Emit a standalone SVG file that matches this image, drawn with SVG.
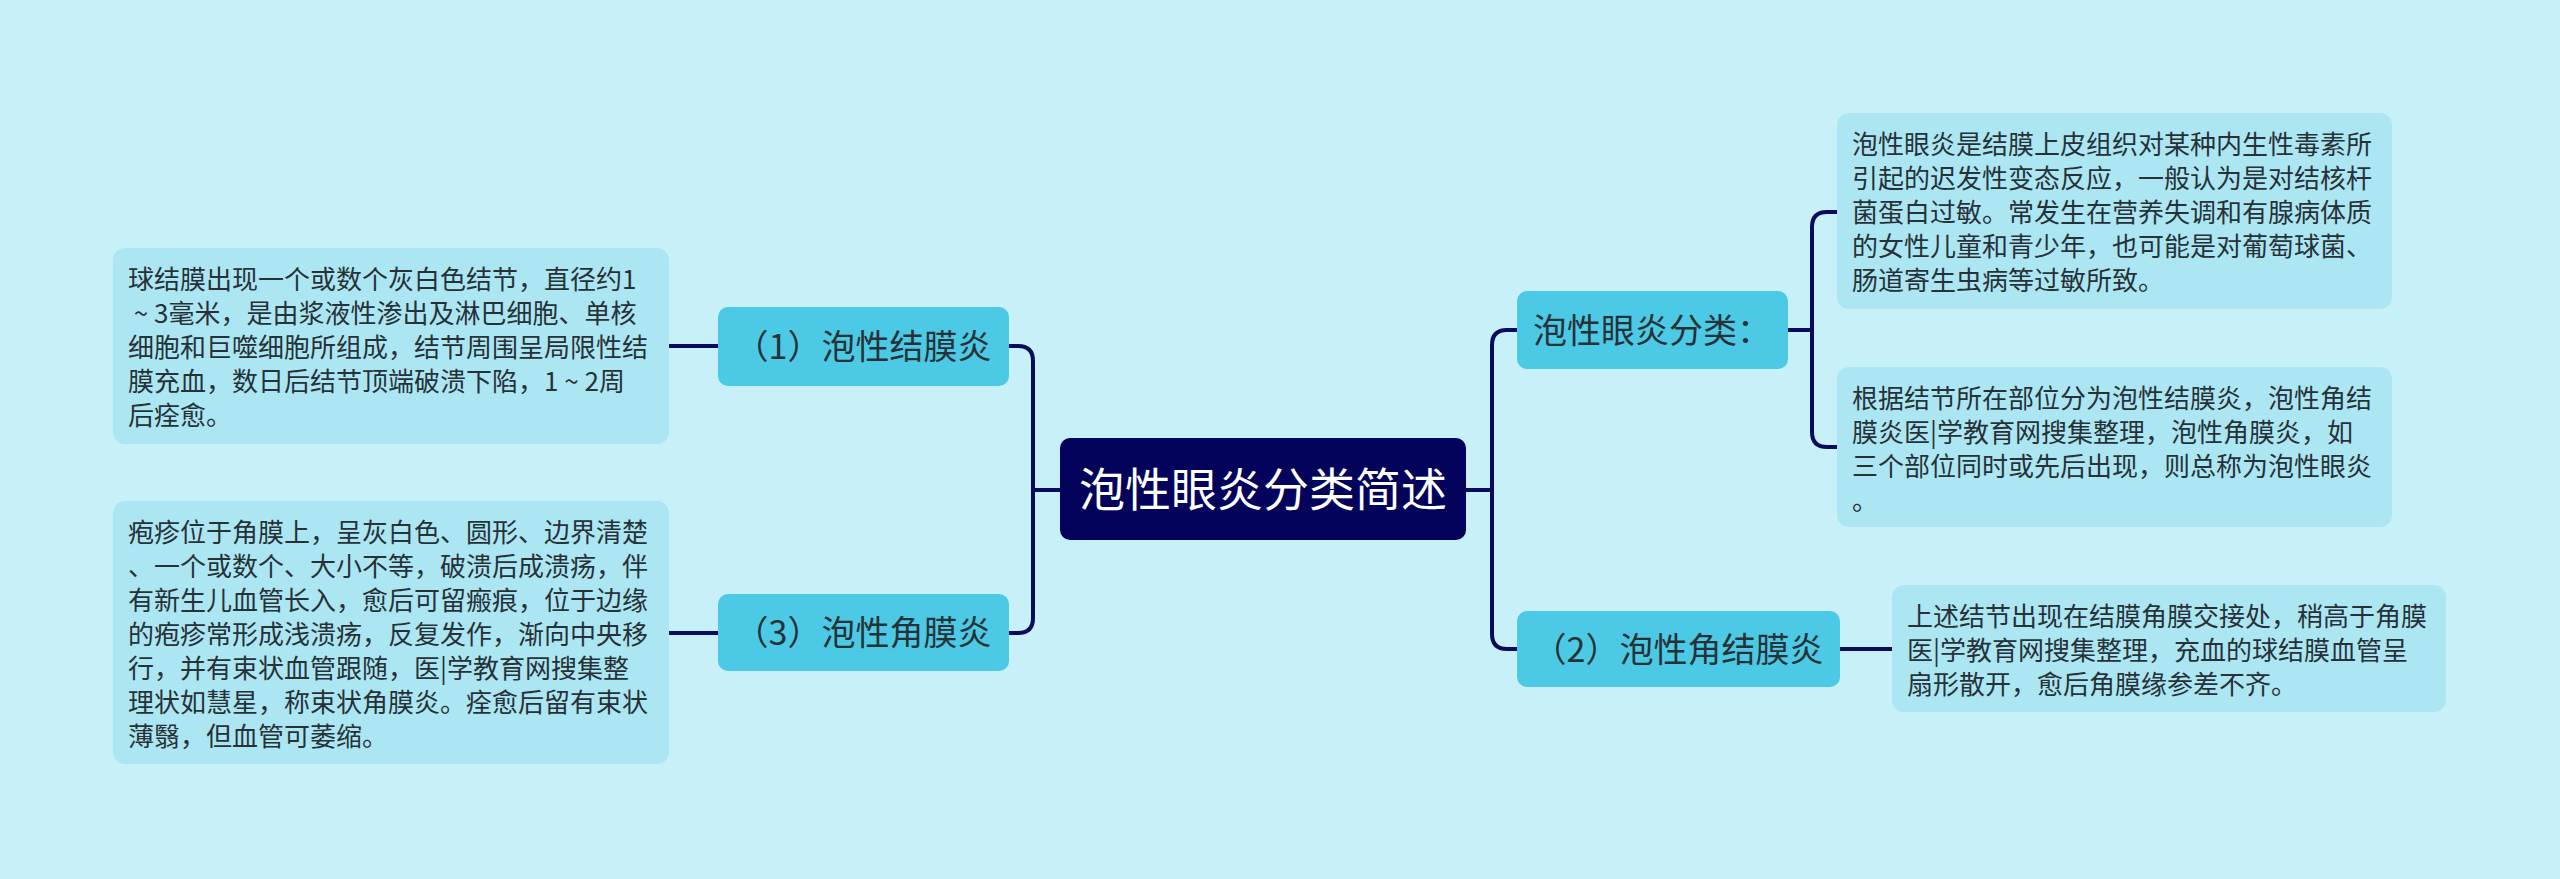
<svg xmlns="http://www.w3.org/2000/svg" width="2560" height="879" viewBox="0 0 2560 879">
<style>
.leaf{fill:#ade6f3}
.sub{fill:#4cc9e4}
.root{fill:#03035b}
.lt{font-family:"Noto Sans CJK SC","Noto Sans",sans-serif;font-size:26px;fill:#263238;white-space:pre}
.st{font-family:"Noto Sans CJK SC","Noto Sans",sans-serif;font-size:34px;fill:#263238;text-anchor:middle}
.rt{font-family:"Noto Sans CJK SC","Noto Sans",sans-serif;font-size:46px;fill:#ffffff;text-anchor:middle}
.c{fill:none;stroke:#0b0b5c;stroke-width:4}
</style>
<rect width="2560" height="879" fill="#c8f0f8"/>
<g id="connectors">
<path class="c" d="M1060 490 H1033"/>
<path class="c" d="M1009 346 H1018 Q1033 346 1033 361 V618 Q1033 633 1018 633 H1009"/>
<path class="c" d="M669 346 H718"/>
<path class="c" d="M669 633 H718"/>
<path class="c" d="M1466 490 H1492"/>
<path class="c" d="M1517 330 H1507 Q1492 330 1492 345 V634 Q1492 649 1507 649 H1517"/>
<path class="c" d="M1788 330 H1812"/>
<path class="c" d="M1837 212 H1827 Q1812 212 1812 227 V432 Q1812 447 1827 447 H1837"/>
<path class="c" d="M1840 649 H1892"/>
</g>
<g id="root">
<rect class="root" x="1060" y="438" width="406" height="102" rx="10"/>
<text class="rt" x="1263" y="506">泡性眼炎分类简述</text>
</g>
<g id="n1">
<rect class="sub" x="718" y="307" width="291" height="79" rx="10"/>
<text class="st" x="863" y="359">（1）泡性结膜炎</text>
</g>
<g id="n3">
<rect class="sub" x="718" y="594" width="291" height="77" rx="10"/>
<text class="st" x="863" y="645">（3）泡性角膜炎</text>
</g>
<g id="nc">
<rect class="sub" x="1517" y="291" width="271" height="78" rx="10"/>
<text class="st" x="1652" y="343">泡性眼炎分类：</text>
</g>
<g id="n2">
<rect class="sub" x="1517" y="611" width="323" height="76" rx="10"/>
<text class="st" x="1678" y="662">（2）泡性角结膜炎</text>
</g>
<g id="leaf1">
<rect class="leaf" x="113" y="248" width="556" height="196" rx="12"/>
<text class="lt" x="128" y="289">球结膜出现一个或数个灰白色结节，直径约1</text>
<text class="lt" x="128" y="323"> ~ 3毫米，是由浆液性渗出及淋巴细胞、单核</text>
<text class="lt" x="128" y="357">细胞和巨噬细胞所组成，结节周围呈局限性结</text>
<text class="lt" x="128" y="391">膜充血，数日后结节顶端破溃下陷，1 ~ 2周</text>
<text class="lt" x="128" y="425">后痊愈。</text>
</g>
<g id="leaf3">
<rect class="leaf" x="113" y="501" width="556" height="263" rx="12"/>
<text class="lt" x="128" y="542">疱疹位于角膜上，呈灰白色、圆形、边界清楚</text>
<text class="lt" x="128" y="576">、一个或数个、大小不等，破溃后成溃疡，伴</text>
<text class="lt" x="128" y="610">有新生儿血管长入，愈后可留瘢痕，位于边缘</text>
<text class="lt" x="128" y="644">的疱疹常形成浅溃疡，反复发作，渐向中央移</text>
<text class="lt" x="128" y="678">行，并有束状血管跟随，医|学教育网搜集整</text>
<text class="lt" x="128" y="712">理状如慧星，称束状角膜炎。痊愈后留有束状</text>
<text class="lt" x="128" y="746">薄翳，但血管可萎缩。</text>
</g>
<g id="leafR1">
<rect class="leaf" x="1837" y="113" width="555" height="196" rx="12"/>
<text class="lt" x="1852" y="154">泡性眼炎是结膜上皮组织对某种内生性毒素所</text>
<text class="lt" x="1852" y="188">引起的迟发性变态反应，一般认为是对结核杆</text>
<text class="lt" x="1852" y="222">菌蛋白过敏。常发生在营养失调和有腺病体质</text>
<text class="lt" x="1852" y="256">的女性儿童和青少年，也可能是对葡萄球菌、</text>
<text class="lt" x="1852" y="290">肠道寄生虫病等过敏所致。</text>
</g>
<g id="leafR2">
<rect class="leaf" x="1837" y="367" width="555" height="160" rx="12"/>
<text class="lt" x="1852" y="408">根据结节所在部位分为泡性结膜炎，泡性角结</text>
<text class="lt" x="1852" y="442">膜炎医|学教育网搜集整理，泡性角膜炎，如</text>
<text class="lt" x="1852" y="476">三个部位同时或先后出现，则总称为泡性眼炎</text>
<text class="lt" x="1852" y="510">。</text>
</g>
<g id="leafR3">
<rect class="leaf" x="1892" y="585" width="554" height="127" rx="12"/>
<text class="lt" x="1907" y="626">上述结节出现在结膜角膜交接处，稍高于角膜</text>
<text class="lt" x="1907" y="660">医|学教育网搜集整理，充血的球结膜血管呈</text>
<text class="lt" x="1907" y="694">扇形散开，愈后角膜缘参差不齐。</text>
</g>
</svg>
